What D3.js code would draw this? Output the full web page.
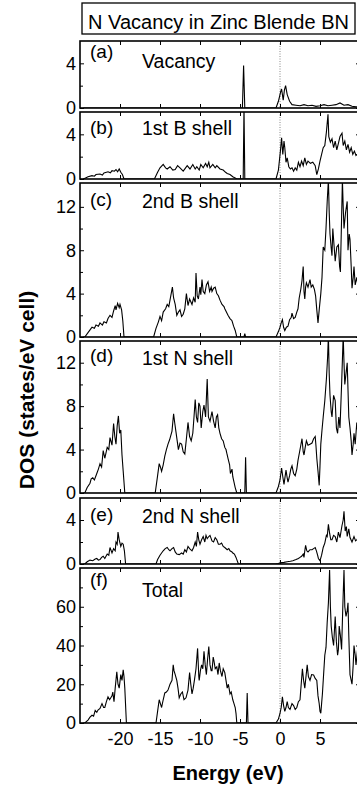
<!DOCTYPE html>
<html>
<head>
<meta charset="utf-8">
<script src="https://cdn.jsdelivr.net/npm/d3@7"></script>
<style>
body { margin: 0; background: #fff; }
svg text { font-family: "Liberation Sans", Arial, sans-serif; fill: #000; }
</style>
</head>
<body>
<svg id="chart" width="357" height="789"></svg>
<script>
// [energy (eV), DOS], one list per panel
var vacancy = [[-24.6,0],[-4.7,0],[-4.55,3.8],[-4.4,0],[-0.5,0],[-0.2,0.6],[0.1,1.5],[0.2,1.7],[0.4,0.7],[0.55,1.6],[0.7,2.0],[0.9,1.2],[1.2,0.6],[1.5,0.3],[2,0.25],[2.5,0.2],[3,0.3],[3.5,0.2],[4,0.25],[4.5,0.15],[5,0.2],[5.5,0.3],[6,0.2],[6.5,0.25],[7,0.3],[7.5,0.45],[8,0.25],[8.5,0.3],[9,0.15],[9.5,0.1],[10,0.1]]

var shellB1 = [[-24.6,0],[-24.3,0.1],[-24,0.2],[-23.5,0.3],[-23.2,0.25],[-23,0.4],[-22.5,0.45],[-22.2,0.35],[-22,0.55],[-21.5,0.65],[-21.2,0.55],[-21,0.75],[-20.7,0.7],[-20.5,0.85],[-20.3,0.65],[-20.1,0.9],[-19.9,0.6],[-19.7,0.4],[-19.5,0],
  [-15.7,0],[-15.3,0.6],[-15,1.0],[-14.6,1.3],[-14.3,1.0],[-14.1,0.9],[-13.75,1.1],[-13.4,0.8],[-13.1,0.85],[-12.8,1.2],[-12.5,1.0],[-12.1,0.7],[-11.8,1.0],[-11.6,1.2],[-11.25,0.9],[-10.9,1.3],[-10.6,0.9],[-10.4,1.1],[-10.1,0.8],[-9.9,1.3],[-9.6,1.0],[-9.3,1.4],[-9.1,1.1],[-8.9,1.5],[-8.75,1.0],[-8.4,1.3],[-8.1,1.0],[-7.9,1.2],[-7.5,0.9],[-7.1,0.8],[-6.8,0.6],[-6.6,0.5],[-6.25,0.4],[-5.9,0.2],[-5.6,0.1],[-5.4,0],[-4.6,0],[-4.5,6.5],[-4.4,0],
  [-0.5,0],[-0.2,0.8],[0.05,2.5],[0.2,3.7],[0.35,2.2],[0.5,3.4],[0.6,2.8],[0.75,1.5],[0.9,1.9],[1.1,1.1],[1.3,0.9],[1.5,1.0],[1.7,0.7],[1.9,1.0],[2.1,0.8],[2.3,1.5],[2.5,1.1],[2.7,1.6],[2.9,1.2],[3.1,1.9],[3.3,1.3],[3.5,1.6],[3.8,1.4],[4.1,1.5],[4.4,1.2],[4.6,0.4],[4.8,0.9],[5.0,1.6],[5.2,2.2],[5.4,2.8],[5.6,3.0],[5.8,4.2],[6.0,5.8],[6.1,3.8],[6.3,3.3],[6.5,3.6],[6.7,2.8],[6.9,3.4],[7.1,2.6],[7.3,3.2],[7.5,3.8],[7.75,4.1],[7.9,3.0],[8.1,3.4],[8.3,2.6],[8.5,3.1],[8.7,2.4],[8.9,2.8],[9.1,2.2],[9.3,2.5],[9.5,2.1],[9.8,2.3],[10,2.0]]

var shellB2 = [[-24.6,0],[-24.4,0],[-24,0.4],[-23.7,0.7],[-23.5,0.9],[-23.2,0.8],[-23,1.1],[-22.7,1.0],[-22.5,1.3],[-22.2,1.1],[-22,1.4],[-21.7,1.3],[-21.5,1.7],[-21.25,2.0],[-21,1.8],[-20.8,2.4],[-20.6,2.9],[-20.5,2.5],[-20.3,3.1],[-20.1,2.7],[-20,3.0],[-19.8,2.5],[-19.65,1.5],[-19.5,0],
  [-15.8,0],[-15.5,0.8],[-15.2,1.4],[-15,1.9],[-14.8,1.5],[-14.6,2.3],[-14.3,2.6],[-14.1,3.0],[-13.9,2.8],[-13.75,3.4],[-13.6,4.0],[-13.45,4.6],[-13.3,3.6],[-13.1,3.0],[-12.9,2.0],[-12.7,2.3],[-12.5,2.5],[-12.3,1.9],[-12.1,2.1],[-11.9,2.6],[-11.7,4.0],[-11.5,2.9],[-11.3,3.5],[-11,3.0],[-10.8,3.6],[-10.6,3.2],[-10.5,5.9],[-10.35,3.8],[-10.2,3.5],[-10,4.6],[-9.9,3.9],[-9.75,5.3],[-9.6,4.2],[-9.4,4.0],[-9.2,4.8],[-9,5.1],[-8.8,4.2],[-8.6,4.6],[-8.5,4.2],[-8.3,4.5],[-8.1,4.6],[-7.9,4.0],[-7.7,3.8],[-7.5,3.4],[-7.25,3.0],[-7.0,2.8],[-6.9,2.6],[-6.7,2.3],[-6.5,2.0],[-6.25,1.7],[-6,1.5],[-5.8,1.0],[-5.6,0.6],[-5.4,0],[-4.5,0],[-4.4,0.3],[-4.3,0],
  [-0.5,0],[-0.2,0.5],[0,0.9],[0.15,1.3],[0.3,1.6],[0.45,0.9],[0.6,0.6],[0.8,0.9],[1,1.0],[1.2,1.6],[1.4,1.8],[1.5,2.2],[1.7,1.7],[1.9,1.8],[2.1,2.3],[2.25,2.6],[2.4,3.6],[2.6,4.4],[2.75,5.2],[2.9,6.5],[3.0,4.2],[3.1,3.5],[3.2,4.6],[3.3,5.0],[3.5,4.6],[3.75,5.3],[3.9,4.6],[4.1,4.8],[4.3,4.4],[4.45,3.8],[4.6,2.5],[4.75,1.3],[4.9,2.5],[5.1,4.0],[5.25,5.5],[5.4,8.3],[5.6,8.0],[5.75,10.0],[5.9,12.5],[6.05,14.5],[6.15,11.5],[6.25,9.5],[6.4,8.2],[6.5,7.5],[6.6,10.0],[6.75,8.5],[6.9,7.0],[7.1,8.3],[7.3,8.5],[7.45,6.5],[7.55,6.0],[7.7,11.0],[7.8,14.5],[7.9,12.0],[8.0,10.0],[8.2,11.5],[8.4,12.5],[8.5,8.0],[8.65,9.5],[8.75,9.0],[8.9,6.5],[9.0,4.5],[9.15,5.5],[9.25,6.5],[9.4,4.8],[9.6,5.5],[9.8,4.5],[10,5]]

var shellN1 = [[-24.6,0],[-24.4,0],[-24.1,0.5],[-23.75,0.9],[-23.6,1.3],[-23.4,1.4],[-23.2,1.2],[-22.9,1.8],[-22.7,2.2],[-22.5,2.7],[-22.3,2.4],[-22.1,3.9],[-21.9,3.2],[-21.6,4.2],[-21.4,4.0],[-21.25,5.1],[-21.0,4.4],[-20.8,6.4],[-20.65,5.2],[-20.5,4.5],[-20.35,6.2],[-20.2,7.1],[-20.05,5.5],[-19.9,5.8],[-19.75,3.5],[-19.6,2.0],[-19.4,0],
  [-15.6,0],[-15.3,1.6],[-15.1,2.7],[-14.95,2.4],[-14.8,2.0],[-14.6,2.6],[-14.4,3.4],[-14.2,4.0],[-14,4.5],[-13.8,4.9],[-13.5,5.7],[-13.3,7.3],[-13.15,6.4],[-13,5.6],[-12.85,4.8],[-12.7,4.0],[-12.5,4.6],[-12.3,4.5],[-12.1,3.8],[-11.9,3.6],[-11.7,5.0],[-11.5,6.5],[-11.3,5.2],[-11.1,4.8],[-10.9,5.5],[-10.75,7.0],[-10.6,8.6],[-10.45,7.0],[-10.3,6.5],[-10.15,8.3],[-10,8.0],[-9.85,6.0],[-9.65,7.5],[-9.5,8.1],[-9.3,7.0],[-9.1,10.5],[-8.95,7.0],[-8.75,6.6],[-8.5,7.5],[-8.3,6.6],[-8.1,6.0],[-7.95,7.0],[-7.8,7.2],[-7.65,6.0],[-7.5,5.5],[-7.3,5.0],[-7.1,4.8],[-6.9,4.2],[-6.75,4.0],[-6.6,3.5],[-6.5,3.2],[-6.3,2.6],[-6.2,1.8],[-6.0,2.2],[-5.9,1.5],[-5.75,1.0],[-5.6,0.5],[-5.4,0],[-4.4,0],[-4.3,3.3],[-4.2,0],
  [-0.5,0],[-0.2,0.6],[0,1.2],[0.2,2.3],[0.35,1.5],[0.5,0.8],[0.75,2.1],[0.9,1.4],[1,1.0],[1.2,1.6],[1.35,2.2],[1.5,2.5],[1.7,1.8],[1.9,1.6],[2.1,2.2],[2.25,3.0],[2.45,3.8],[2.6,4.4],[2.75,5.0],[2.9,3.8],[3.0,3.5],[3.15,4.2],[3.3,4.8],[3.5,4.4],[3.75,4.5],[4.0,4.6],[4.2,5.0],[4.4,5.2],[4.5,4.3],[4.6,3.2],[4.75,2.0],[4.9,0.7],[5.0,2.5],[5.1,4.5],[5.25,5.8],[5.4,7.0],[5.6,8.5],[5.8,10.5],[5.95,12.5],[6.05,14.5],[6.15,11.0],[6.25,9.0],[6.4,7.5],[6.5,7.0],[6.7,9.0],[6.9,8.5],[7.05,6.0],[7.2,5.5],[7.35,7.0],[7.5,6.0],[7.7,10.0],[7.9,14.5],[8.0,12.0],[8.1,10.0],[8.25,11.0],[8.4,12.0],[8.5,9.5],[8.6,7.0],[8.75,6.0],[8.9,4.8],[9.0,3.5],[9.15,4.5],[9.25,5.5],[9.4,4.5],[9.6,6.5],[9.8,5.0],[10,5.5]]

var shellN2 = [[-24.6,0],[-24.4,0],[-24.1,0.2],[-23.75,0.35],[-23.4,0.3],[-23.1,0.45],[-22.9,0.5],[-22.7,0.35],[-22.5,0.4],[-22.3,0.6],[-22.1,0.7],[-21.9,0.5],[-21.6,0.9],[-21.4,0.8],[-21.25,1.5],[-21.0,1.0],[-20.8,1.4],[-20.6,1.2],[-20.5,2.0],[-20.35,1.8],[-20.25,2.9],[-20.1,2.2],[-19.9,1.6],[-19.75,1.9],[-19.6,1.8],[-19.45,1.2],[-19.3,0],
  [-15.5,0],[-15.3,0.4],[-15,0.8],[-14.8,1.0],[-14.6,1.2],[-14.35,1.4],[-14.1,1.5],[-13.9,1.3],[-13.75,1.2],[-13.5,1.4],[-13.3,1.5],[-13.1,1.1],[-12.9,0.9],[-12.6,0.85],[-12.3,1.0],[-12.1,0.9],[-11.9,1.3],[-11.7,1.1],[-11.5,1.6],[-11.3,1.4],[-11,1.2],[-10.8,1.5],[-10.6,2.0],[-10.45,1.6],[-10.3,2.9],[-10.15,2.2],[-10,1.8],[-9.8,2.2],[-9.6,2.5],[-9.4,2.0],[-9.25,2.6],[-9.1,2.3],[-8.9,2.5],[-8.75,2.6],[-8.5,2.1],[-8.3,2.0],[-8.1,2.4],[-7.9,2.2],[-7.7,1.8],[-7.5,1.8],[-7.3,1.9],[-7.1,1.6],[-6.9,1.5],[-6.6,1.3],[-6.4,1.4],[-6.25,1.2],[-6.0,1.1],[-5.9,1.0],[-5.7,0.9],[-5.5,0.6],[-5.2,0],
  [-0.6,0],[-0.2,0.05],[0,0.1],[0.5,0.15],[0.9,0.2],[1.3,0.25],[1.6,0.3],[2.0,0.4],[2.3,0.5],[2.5,0.6],[2.7,0.7],[2.9,0.9],[3.0,0.6],[3.1,1.2],[3.2,1.7],[3.35,1.2],[3.5,1.1],[3.75,1.3],[4.0,1.3],[4.2,1.4],[4.4,1.5],[4.55,1.2],[4.7,0.8],[4.8,0.5],[5.0,0.3],[5.2,0.8],[5.4,1.5],[5.6,1.9],[5.8,2.6],[5.9,2.5],[6.05,3.6],[6.2,2.8],[6.35,2.2],[6.5,2.2],[6.7,2.6],[6.9,2.5],[7.1,2.0],[7.3,2.9],[7.5,2.4],[7.75,3.5],[7.9,4.0],[8.0,4.8],[8.15,3.0],[8.3,3.4],[8.4,2.5],[8.6,3.2],[8.75,2.4],[9.0,2.0],[9.15,2.3],[9.25,2.5],[9.45,2.1],[9.6,2.2],[9.8,2.4],[10,2.2]]

var total = [[-24.6,0],[-24.4,0],[-24,1.5],[-23.75,3],[-23.5,4],[-23.3,3.5],[-23.1,6.5],[-22.9,5.5],[-22.75,6.7],[-22.5,7.5],[-22.25,10],[-22.05,8],[-21.9,8],[-21.7,11],[-21.5,13.5],[-21.3,12],[-21,14],[-20.9,16],[-20.75,11],[-20.6,18],[-20.4,26.4],[-20.25,20],[-20.1,18],[-19.9,25],[-19.75,22],[-19.6,27.4],[-19.5,24],[-19.4,18],[-19.2,0],
  [-15.5,0],[-15.3,6],[-15.1,12],[-14.95,10],[-14.8,8],[-14.6,12],[-14.4,15.5],[-14.2,16],[-14,17],[-13.75,20],[-13.5,22],[-13.35,30],[-13.25,27],[-13.1,25],[-12.9,22],[-12.75,18],[-12.6,13],[-12.4,15],[-12.2,16],[-12,12],[-11.75,13],[-11.5,17],[-11.3,26],[-11.15,20],[-11,15],[-10.85,18],[-10.7,22],[-10.5,28],[-10.3,38.5],[-10.15,24],[-10.1,22],[-9.95,27],[-9.8,30],[-9.65,28],[-9.5,37],[-9.35,30],[-9.2,25],[-9.05,33],[-8.9,39.5],[-8.75,30],[-8.6,27],[-8.5,27],[-8.35,34],[-8.25,32],[-8.1,28],[-7.9,29],[-7.75,25],[-7.6,31],[-7.45,27],[-7.25,24],[-7.1,28],[-6.9,26],[-6.75,22],[-6.6,18],[-6.45,20],[-6.25,15],[-6.1,16],[-5.9,12],[-5.75,10],[-5.6,8],[-5.5,5],[-5.4,0],[-4.2,0],[-4.1,15.5],[-4.0,0],
  [-0.5,0],[-0.2,2],[0,5],[0.15,8],[0.3,13.5],[0.45,9],[0.6,6],[0.75,8],[0.9,11],[1.05,8],[1.25,7],[1.5,10],[1.7,9],[1.9,7],[2.1,8],[2.3,11],[2.5,12],[2.65,20],[2.8,28],[2.95,22],[3.1,18],[3.25,24],[3.4,30],[3.55,24],[3.75,22],[3.95,25],[4.2,24.8],[4.4,23],[4.6,22],[4.75,14],[4.9,10],[5.0,6],[5.1,5],[5.2,10],[5.3,15],[5.45,25],[5.6,35],[5.75,39],[5.9,52],[6.05,62],[6.2,79],[6.3,60],[6.4,50],[6.55,44],[6.7,40],[6.9,55],[7.05,42],[7.2,35],[7.3,38],[7.4,50],[7.55,45],[7.7,38],[7.85,60],[8.0,79],[8.1,60],[8.25,55],[8.4,58],[8.5,62],[8.6,45],[8.75,25],[9.0,20],[9.15,30],[9.25,40],[9.4,35],[9.5,30],[9.7,38],[9.85,32],[10,35]]

var series = [vacancy, shellB1, shellB2, shellN1, shellN2, total]
var panelTags = ["(a)", "(b)", "(c)", "(d)", "(e)", "(f)"]
var panelNames = ["Vacancy", "1st B shell", "2nd B shell", "1st N shell", "2nd N shell", "Total"]
var yMax = [6, 6, 14.2, 14, 6, 80]
var yMajor = [[0,4], [0,4], [0,4,8,12], [0,4,8,12], [0,4], [0,20,40,60]]
var yMinor = [[2], [2], [2,6,10], [2,6,10], [2], [10,30,50,70]]
var energyTicks = [-20, -15, -10, -5, 0, 5]
var titleText = "N Vacancy in Zinc Blende BN"

// layout (pixels)
var panelTop = [41, 112, 183, 341, 498, 568]
var panelBottom = [108, 179, 337, 493, 564, 723]
var tagBase = [58, 134, 206, 362, 521, 586]
var nameBase = [68, 135, 208, 365, 523, 597]
var left = 80, right = 360

var svg = d3.select("#chart")

var x = d3.scaleLinear().domain([-25, 10]).range([left, right])

// title box
svg.append("rect")
  .attr("x", 82).attr("y", 3).attr("width", 273).attr("height", 31)
  .attr("fill", "none").attr("stroke", "#000").attr("stroke-width", 1.3)
svg.append("text")
  .attr("x", 218.5).attr("y", 29)
  .attr("text-anchor", "middle")
  .attr("font-size", "20px")
  .text(titleText)

for (var i = 0; i < series.length; i++) {
  var y = d3.scaleLinear().domain([0, yMax[i]]).range([panelBottom[i], panelTop[i]])
  var g = svg.append("g").attr("class", "panel")

  g.append("clipPath").attr("id", "clip" + i)
    .append("rect")
    .attr("x", left).attr("y", panelTop[i])
    .attr("width", right - left).attr("height", panelBottom[i] - panelTop[i])

  // Fermi level
  g.append("line")
    .attr("x1", x(0)).attr("x2", x(0))
    .attr("y1", panelTop[i]).attr("y2", panelBottom[i])
    .attr("stroke", "#888").attr("stroke-width", 1)
    .attr("stroke-dasharray", "1,1.5")

  var line = d3.line()
    .x(function(d) { return x(d[0]) })
    .y(function(d) { return y(d[1]) })

  g.append("path")
    .datum(series[i])
    .attr("clip-path", "url(#clip" + i + ")")
    .attr("d", line)
    .attr("fill", "none")
    .attr("stroke", "#000")
    .attr("stroke-width", 1.1)
    .attr("stroke-linejoin", "miter")

  // axes, ticks pointing in
  var yl = g.append("g").attr("transform", "translate(" + left + ",0)")
    .call(d3.axisLeft(y).tickValues(yMajor[i]).tickSize(-4).tickPadding(4)
      .tickFormat(function(d) { return String(d) }))
  g.append("g").attr("transform", "translate(" + left + ",0)")
    .call(d3.axisLeft(y).tickValues(yMinor[i]).tickSize(-3).tickFormat(""))
  g.append("g").attr("transform", "translate(" + right + ",0)")
    .call(d3.axisRight(y).tickValues(yMajor[i]).tickSize(-4).tickFormat(""))
  g.append("g").attr("transform", "translate(" + right + ",0)")
    .call(d3.axisRight(y).tickValues(yMinor[i]).tickSize(-3).tickFormat(""))
  g.append("g").attr("transform", "translate(0," + panelTop[i] + ")")
    .call(d3.axisTop(x).tickValues(energyTicks).tickSize(-4).tickFormat(""))

  var xb = g.append("g").attr("transform", "translate(0," + panelBottom[i] + ")")
  if (i === series.length - 1) {
    xb.call(d3.axisBottom(x).tickValues(energyTicks).tickSize(-4).tickPadding(9)
      .tickFormat(function(d) { return String(d) }))
  } else {
    xb.call(d3.axisBottom(x).tickValues(energyTicks).tickSize(-4).tickFormat(""))
  }

  g.selectAll(".domain").remove()
  g.selectAll(".tick line").attr("stroke", "#000").attr("stroke-width", 1)
  g.selectAll(".tick text")
    .attr("font-family", "'Liberation Sans', Arial, sans-serif")
    .attr("font-size", "18px")
    .attr("fill", "#000")

  // frame
  g.append("rect")
    .attr("x", left).attr("y", panelTop[i])
    .attr("width", right - left).attr("height", panelBottom[i] - panelTop[i])
    .attr("fill", "none").attr("stroke", "#000").attr("stroke-width", 1.6)

  g.append("text")
    .attr("x", 90).attr("y", tagBase[i])
    .attr("font-size", "19px")
    .text(panelTags[i])
  g.append("text")
    .attr("x", 142).attr("y", nameBase[i])
    .attr("font-size", "19.5px")
    .text(panelNames[i])
}

svg.append("text")
  .attr("transform", "translate(34,390) rotate(-90)")
  .attr("text-anchor", "middle")
  .attr("font-size", "21px")
  .attr("font-weight", "bold")
  .text("DOS (states/eV cell)")

svg.append("text")
  .attr("x", 228).attr("y", 780)
  .attr("text-anchor", "middle")
  .attr("font-size", "20px")
  .attr("font-weight", "bold")
  .text("Energy (eV)")
</script>
</body>
</html>
